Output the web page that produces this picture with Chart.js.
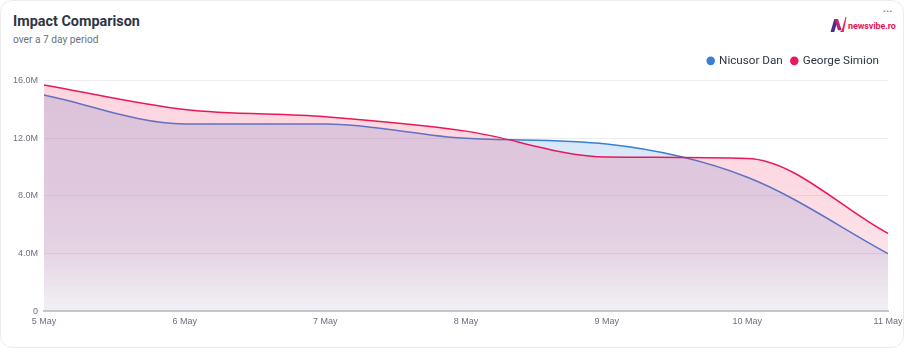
<!DOCTYPE html>
<html>
<head>
<meta charset="utf-8">
<script src="https://cdn.jsdelivr.net/npm/chart.js@4.4.1/dist/chart.umd.min.js"></script>
<style>
  html, body { margin: 0; padding: 0; background: #ffffff; }
  body { width: 904px; height: 348px; overflow: hidden; font-family: Roboto, "Noto Sans", sans-serif; }
  .card {
    position: absolute; left: 0; top: 0; width: 902px; height: 346px;
    border: 1px solid #ececef; border-radius: 12px; background: #fff;
  }
  .title { position: absolute; left: 12px; top: 12px; font-size: 14.4px; font-weight: 700; color: #2e3445; }
  .subtitle { position: absolute; left: 12px; top: 33px; font-size: 10.2px; color: #6b7080; }
  .brand { position: absolute; left: 829px; top: 15px; height: 16px; display: flex; align-items: center; }
  .brand span { font-size: 9px; font-weight: 700; color: #e0195a; margin-left: 1px; letter-spacing: -0.1px; position: relative; top: 2px; }
  .dots { position: absolute; left: 882px; top: 6px; font-size: 8px; color: #777; letter-spacing: 0.5px; }
  .wrap { position: absolute; left: 0; top: 0; width: 904px; height: 348px; }
</style>
</head>
<body>
<div class="card">
  <div class="title">Impact Comparison</div>
  <div class="subtitle">over a 7 day period</div>
  <div class="brand">
    <svg width="17" height="15" viewBox="0 0 17 16">
      <defs>
        <linearGradient id="ng" x1="0" y1="1" x2="1" y2="0">
          <stop offset="0" stop-color="#4a2c8c"/>
          <stop offset="0.55" stop-color="#c0267a"/>
          <stop offset="1" stop-color="#ec1e5a"/>
        </linearGradient>
      </defs>
      <polygon points="0,16 4,2 8,2 4,16" fill="#4a2c8c"/>
      <polygon points="4,2 8,2 12,14 8,14" fill="url(#ng)"/>
      <polygon points="12,14 16,0 17,0 14,16 10,16" fill="#ec1e5a"/>
    </svg>
    <span>newsvibe.ro</span>
  </div>
  <div class="dots">•••</div>
</div>
<div class="wrap"><canvas id="impactChart"></canvas></div>

<script>
// daily impact, in millions
const days = ['5 May', '6 May', '7 May', '8 May', '9 May', '10 May', '11 May'];
const nicusorDan = [15.0, 13.0, 13.0, 12.0, 11.6, 9.3, 4.0];
const georgeSimion = [15.7, 14.0, 13.5, 12.5, 10.7, 10.6, 5.4];
const yTicks = [0, 4, 8, 12, 16];

function areaFill(r, g, b) {
  return function (context) {
    const area = context.chart.chartArea;
    if (!area) return 'rgba(' + r + ',' + g + ',' + b + ',0.2)';
    const grad = context.chart.ctx.createLinearGradient(0, area.top, 0, area.bottom);
    grad.addColorStop(0, 'rgba(' + r + ',' + g + ',' + b + ',0.22)');
    grad.addColorStop(0.5, 'rgba(' + r + ',' + g + ',' + b + ',0.19)');
    grad.addColorStop(0.75, 'rgba(' + r + ',' + g + ',' + b + ',0.15)');
    grad.addColorStop(1, 'rgba(181,176,192,0.1)');
    return grad;
  };
}

// a bit more room between legend and plot, and pull the legend in from the edge
const legendTweak = {
  id: 'legendTweak',
  beforeInit(chart) {
    const fit = chart.legend.fit;
    chart.legend.fit = function () {
      fit.bind(chart.legend)();
      this.height += 4;
    };
  },
  afterUpdate(chart) {
    chart.legend.left -= 10;
    chart.legend.right -= 10;
  }
};

const ctx = document.getElementById('impactChart');
const impactChart = new Chart(ctx, {
  type: 'line',
  data: {
    labels: days,
    datasets: [{
      label: 'George Simion',
      data: georgeSimion.map(v => v * 1e6),
      borderColor: '#e8195a',
      backgroundColor: areaFill(244, 63, 110),
      pointBackgroundColor: '#e8195a',
      borderWidth: 1.5,
      pointRadius: 0,
      fill: 'origin',
      cubicInterpolationMode: 'monotone'
    },
    {
      label: 'Nicusor Dan',
      data: nicusorDan.map(v => v * 1e6),
      borderColor: '#3a7fd6',
      backgroundColor: areaFill(66, 140, 220),
      pointBackgroundColor: '#3a7fd6',
      borderWidth: 1.5,
      pointRadius: 0,
      fill: 'origin',
      cubicInterpolationMode: 'monotone'
    }]
  },
  plugins: [legendTweak],
  options: {
    responsive: true,
    maintainAspectRatio: false,
    animation: false,
    layout: { padding: { top: 46, left: 7, right: 6, bottom: 16 } },
    scales: {
      x: {
        afterFit: axis => { axis.paddingRight = 16; },
        grid: { display: false, drawTicks: false },
        border: { display: true, color: '#c3c7cf', width: 2 },
        ticks: { color: '#6b7080', font: { size: 9, family: 'Liberation Sans' }, padding: 5, maxRotation: 0 }
      },
      y: {
        min: 0,
        max: 16e6,
        afterBuildTicks: axis => { axis.ticks = yTicks.map(v => ({ value: v * 1e6 })); },
        grid: { color: '#ececef', drawTicks: false },
        border: { display: false },
        ticks: {
          color: '#6b7080',
          font: { size: 9, family: 'Liberation Sans' },
          padding: 6,
          callback: v => v === 0 ? '0' : (v / 1e6).toFixed(1) + 'M'
        }
      }
    },
    plugins: {
      legend: {
        display: true,
        position: 'top',
        align: 'end',
        reverse: true,
        labels: {
          usePointStyle: true,
          pointStyle: 'circle',
          boxWidth: 5,
          boxHeight: 5,
          color: '#2e3445',
          font: { size: 11.7, family: 'Roboto' },
          padding: 9
        }
      },
      tooltip: { enabled: false }
    }
  }
});
</script>
</body>
</html>
